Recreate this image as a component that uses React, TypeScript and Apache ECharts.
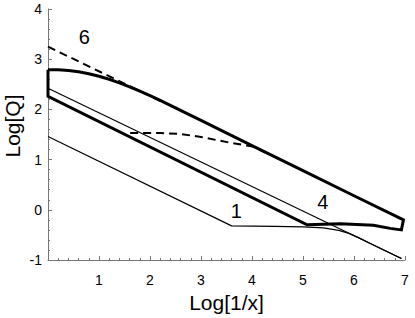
import React, { useEffect, useRef } from "react";
import * as echarts from "echarts";

// x tick labels (0 hidden), y range
const xTicks = [1, 2, 3, 4, 5, 6, 7];
const yTicks = [-1, 0, 1, 2, 3, 4];

// Thick closed region (upper curve, right edge, lower boundary, left edge)
const regionCurve: number[][] = [
  [0, 2.79], [0.2, 2.79], [0.4, 2.775], [0.6, 2.75], [0.8, 2.71], [1.0, 2.66],
  [1.2, 2.6], [1.4, 2.53], [1.6, 2.45], [1.8, 2.365], [2.0, 2.275],
  [2.2, 2.18], [2.5, 2.03],
  [3.0, 1.78], [4.0, 1.28], [5.0, 0.78], [6.0, 0.28], [6.97, -0.2],
  [6.93, -0.4], [6.71, -0.37], [6.38, -0.31], [5.73, -0.28], [5.08, -0.3],
  [0, 2.26], [0, 2.79],
];

// Dashed asymptote labelled 6
const dashedUpper: number[][] = [[0, 3.25], [2.3, 2.12]];

// Dashed lower curve
const dashedLower: number[][] = [
  [1.61, 1.53], [2.2, 1.53], [2.6, 1.51], [3.0, 1.45], [3.3, 1.39],
  [3.6, 1.33], [4.02, 1.26], [4.3, 1.12],
];

// Thin straight line
const thinLine: number[][] = [[0, 2.42], [6.93, -0.97]];

// Thin curve labelled 1
const curve1: number[][] = [
  [0, 1.46], [3.6, -0.32], [4.45, -0.33], [5.0, -0.34], [5.4, -0.36],
  [5.7, -0.41], [5.9, -0.47], [6.1, -0.56], [6.4, -0.71], [6.93, -0.97],
];

// Annotation labels
const labelTexts = ["6", "1", "4"];
const labelPos: number[][] = [[0.71, 3.45], [3.69, -0.02], [5.39, 0.16]];

export default function App() {
  const ref = useRef<HTMLDivElement>(null);
  useEffect(() => {
    if (!ref.current) return;
    const chart = echarts.init(ref.current, undefined, { renderer: "svg" });
    const font = "'Liberation Sans', Arial, Helvetica, sans-serif";
    const axisColor = "#777";
    chart.setOption({
      animation: false,
      backgroundColor: "#fff",
      grid: { left: 48, right: 10, top: 9, bottom: 54, containLabel: false },
      xAxis: {
        type: "value",
        min: 0,
        max: 7,
        interval: 1,
        name: "Log[1/x]",
        nameLocation: "middle",
        nameGap: 32,
        nameTextStyle: { fontFamily: font, fontSize: 21, color: "#000" },
        axisLine: { show: true, onZero: false, lineStyle: { color: axisColor, width: 1 } },
        axisTick: { show: true, inside: true, length: 4, lineStyle: { color: axisColor } },
        minorTick: { show: true, splitNumber: 5, length: 2, lineStyle: { color: axisColor } },
        splitLine: { show: false },
        axisLabel: {
          fontFamily: font,
          fontSize: 14,
          color: "#000",
          margin: 13,
          showMaxLabel: true,
          formatter: (v: number) => (xTicks.includes(v) ? String(v) : ""),
        },
      },
      yAxis: {
        type: "value",
        min: -1,
        max: 4,
        interval: 1,
        axisLine: { show: true, onZero: false, lineStyle: { color: axisColor, width: 1 } },
        axisTick: { show: true, inside: true, length: 4, lineStyle: { color: axisColor } },
        minorTick: { show: true, splitNumber: 5, length: 2, lineStyle: { color: axisColor } },
        splitLine: { show: false },
        axisLabel: {
          fontFamily: font,
          fontSize: 14,
          color: "#000",
          margin: 6,
          formatter: (v: number) => (yTicks.includes(v) ? String(v) : ""),
        },
      },
      graphic: [
        {
          type: "text",
          x: 12,
          y: 126,
          rotation: Math.PI / 2,
          style: {
            text: "Log[Q]",
            font: `21px ${font}`,
            fill: "#000",
            align: "center",
            verticalAlign: "middle",
          },
        },
      ],
      series: [
        {
          type: "line",
          data: dashedUpper,
          showSymbol: false,
          lineStyle: { color: "#000", width: 2, type: [8, 5] },
        },
        {
          type: "line",
          data: dashedLower,
          showSymbol: false,
          lineStyle: { color: "#000", width: 2, type: [8, 5] },
        },
        {
          type: "line",
          data: thinLine,
          showSymbol: false,
          lineStyle: { color: "#000", width: 1.2 },
        },
        {
          type: "line",
          data: curve1,
          showSymbol: false,
          lineStyle: { color: "#000", width: 1.2 },
        },
        {
          type: "line",
          data: regionCurve,
          showSymbol: false,
          lineStyle: { color: "#000", width: 3, join: "miter" },
        },
        {
          type: "scatter",
          symbolSize: 0,
          itemStyle: { opacity: 1, color: "#000" },
          data: labelPos.map((p, i) => ({ value: p, name: labelTexts[i] })),
          label: {
            show: true,
            position: "inside",
            formatter: (p: any) => p.name,
            fontFamily: font,
            fontSize: 20,
            color: "#000",
            opacity: 1,
          },
        },
      ],
    });
    return () => chart.dispose();
  }, []);
  return (
    <div
      ref={ref}
      style={{ width: 415, height: 318, position: "fixed", left: 0, top: 0 }}
    />
  );
}
